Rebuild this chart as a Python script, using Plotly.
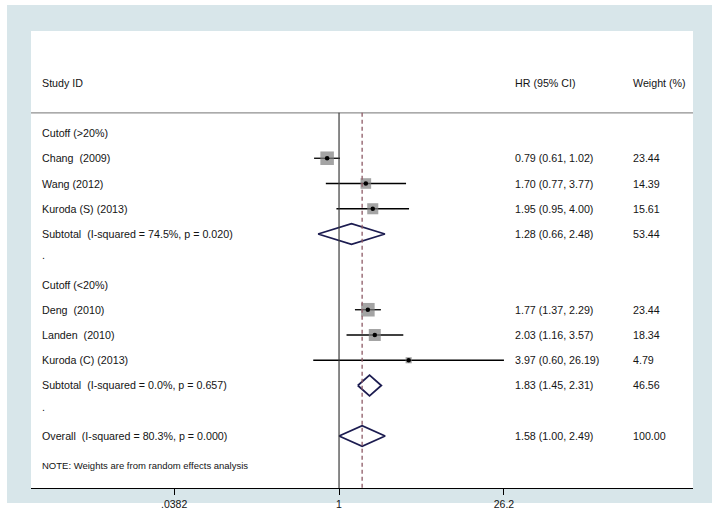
import plotly.graph_objects as go
import math

# ---------------- data ----------------
study_labels = ["Chang  (2009)", "Wang (2012)", "Kuroda (S) (2013)",
                "Deng  (2010)", "Landen  (2010)", "Kuroda (C) (2013)"]
study_rows = [1, 2, 3, 7, 8, 9]
study_hr = [0.79, 1.70, 1.95, 1.77, 2.03, 3.97]
study_lo = [0.61, 0.77, 0.95, 1.37, 1.16, 0.60]
study_hi = [1.02, 3.77, 4.00, 2.29, 3.57, 26.19]
study_weight = [23.44, 14.39, 15.61, 23.44, 18.34, 4.79]

pool_labels = ["Subtotal  (I-squared = 74.5%, p = 0.020)",
               "Subtotal  (I-squared = 0.0%, p = 0.657)",
               "Overall  (I-squared = 80.3%, p = 0.000)"]
pool_rows = [4, 10, 12]
pool_hr = [1.28, 1.83, 1.58]
pool_lo = [0.66, 1.45, 1.00]
pool_hi = [2.48, 2.31, 2.49]
pool_weight = [53.44, 46.56, 100.00]

group_labels = ["Cutoff (>20%)", "Cutoff (<20%)"]
group_rows = [0, 6]
spacer_rows = [5, 11]

header_labels = ["Study ID", "HR (95% CI)", "Weight (%)"]
tick_vals = [0.0382, 1, 26.2]
tick_text = [".0382", "1", "26.2"]
overall_hr = pool_hr[-1]
note_text = "NOTE: Weights are from random effects analysis"

# ---------------- styling ----------------
FONT = "Liberation Sans, Arial, sans-serif"
TXT = "#141414"
FS = 10.7
col_x = [0.0136, 0.728, 0.906]   # paper x of text columns
header_row = -2
line_top_row = -0.8
y_range = [14.06, -4.04]

fig = go.Figure()

# CI lines for studies
for r, lo, hi in zip(study_rows, study_lo, study_hi):
    fig.add_trace(go.Scatter(x=[lo, hi], y=[r, r], mode="lines",
                             line=dict(color="black", width=1.3),
                             hoverinfo="skip", showlegend=False))

# weight squares
fig.add_trace(go.Scatter(x=study_hr, y=study_rows, mode="markers",
                         marker=dict(symbol="square", color="#7d7d7d",
                                     size=[2.8 * math.sqrt(w) for w in study_weight],
                                     line=dict(width=0)),
                         hoverinfo="skip", showlegend=False))
# point estimates
fig.add_trace(go.Scatter(x=study_hr, y=study_rows, mode="markers",
                         marker=dict(symbol="circle", color="black", size=4.5),
                         hoverinfo="skip", showlegend=False))

# pooled diamonds
h = 0.41
for r, e, lo, hi in zip(pool_rows, pool_hr, pool_lo, pool_hi):
    fig.add_trace(go.Scatter(x=[lo, e, hi, e, lo], y=[r, r - h, r, r + h, r],
                             mode="lines", line=dict(color="#1c1c50", width=1.8),
                             fill="toself", fillcolor="rgba(255,255,255,0)",
                             hoverinfo="skip", showlegend=False))

shapes = []
# outer blue frame and white plot area
shapes.append(dict(type="rect", xref="paper", yref="paper",
                   x0=-0.03625, x1=1.0287, y0=-0.0328, y1=1.0569,
                   fillcolor="#d8e6ea", line=dict(width=0), layer="below"))
shapes.append(dict(type="rect", xref="paper", yref="paper",
                   x0=0, x1=1, y0=0, y1=1,
                   fillcolor="white", line=dict(width=0), layer="below"))
# header rule
shapes.append(dict(type="line", xref="paper", yref="y", x0=0, x1=1,
                   y0=line_top_row, y1=line_top_row,
                   line=dict(color="#8f8f8f", width=1.2)))
# null line
shapes.append(dict(type="line", xref="x", yref="y", x0=1, x1=1,
                   y0=line_top_row, y1=y_range[0],
                   line=dict(color="#3a3a3a", width=1.2)))
# overall estimate dashed line
shapes.append(dict(type="line", xref="x", yref="y", x0=overall_hr, x1=overall_hr,
                   y0=line_top_row, y1=y_range[0],
                   line=dict(color="#8e5a66", width=1.3, dash="4px,3px")))

annotations = []

def add_text(xp, y, t, size=FS):
    annotations.append(dict(xref="paper", yref="y", x=xp, y=y, text=t,
                            showarrow=False, xanchor="left", yanchor="middle",
                            font=dict(family=FONT, size=size, color=TXT)))

for xp, t in zip(col_x, header_labels):
    add_text(xp, header_row, t)
for r, t in zip(group_rows, group_labels):
    add_text(col_x[0], r, t)
for r in spacer_rows:
    add_text(col_x[0], r - 0.15, ".")
for lab, r, e, lo, hi, w in zip(study_labels, study_rows, study_hr, study_lo, study_hi, study_weight):
    add_text(col_x[0], r, lab)
    add_text(col_x[1], r, f"{e:.2f} ({lo:.2f}, {hi:.2f})")
    add_text(col_x[2], r, f"{w:.2f}")
for lab, r, e, lo, hi, w in zip(pool_labels, pool_rows, pool_hr, pool_lo, pool_hi, pool_weight):
    add_text(col_x[0], r, lab)
    add_text(col_x[1], r, f"{e:.2f} ({lo:.2f}, {hi:.2f})")
    add_text(col_x[2], r, f"{w:.2f}")
add_text(col_x[0], 13.15, note_text, size=9.5)

fig.update_layout(
    width=720, height=513,
    margin=dict(l=31, r=27, t=31, b=25, pad=0, autoexpand=False),
    paper_bgcolor="white", plot_bgcolor="white",
    showlegend=False,
    shapes=shapes, annotations=annotations,
    xaxis=dict(type="log", range=[-2.649, 3.044], showgrid=False, zeroline=False,
               showline=True, linecolor="black", linewidth=1.2,
               ticks="outside", ticklen=6, tickcolor="black", tickwidth=1.2,
               tickvals=tick_vals, ticktext=tick_text, automargin=False,
               tickfont=dict(family=FONT, size=10.5, color=TXT), fixedrange=True),
    yaxis=dict(range=y_range, visible=False, showgrid=False, zeroline=False,
               automargin=False, fixedrange=True),
)

fig.write_html("out.html", config={"displayModeBar": False},
               post_script="document.body.style.margin='0';document.body.style.overflow='hidden';")
